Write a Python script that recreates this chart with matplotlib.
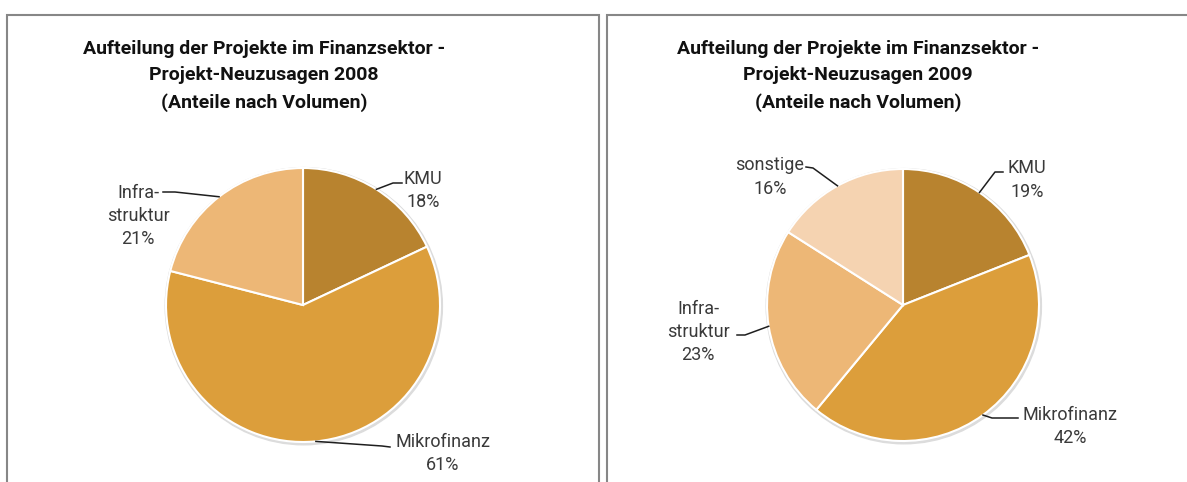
import numpy as np
import matplotlib
matplotlib.use("Agg")
import matplotlib.pyplot as plt
from matplotlib.patches import Circle

W, H = 1187, 482

# data
labels_2008 = ["KMU", "Mikrofinanz", "Infra-\nstruktur"]
shares_2008 = [18, 61, 21]
labels_2009 = ["KMU", "Mikrofinanz", "Infra-\nstruktur", "sonstige"]
shares_2009 = [19, 42, 23, 16]
titles = [
    "Aufteilung der Projekte im Finanzsektor -\nProjekt-Neuzusagen 2008\n(Anteile nach Volumen)",
    "Aufteilung der Projekte im Finanzsektor -\nProjekt-Neuzusagen 2009\n(Anteile nach Volumen)",
]

COLORS = {
    "KMU": "#B8832F",
    "Mikrofinanz": "#DC9E3B",
    "Infra-\nstruktur": "#EDB776",
    "sonstige": "#F5D3B1",
}
BORDER = "#878787"
LABEL_COLOR = "#3a3a3a"
LINE_COLOR = "#1e1e1e"

plt.rcParams["font.family"] = ["Roboto", "DejaVu Sans"]


def fy(y):
    # pixel rows are counted from the top in the reference
    return H - y


fig = plt.figure(figsize=(W / 100, H / 100), dpi=100)
ax = fig.add_axes([0, 0, 1, 1])

# panel frames
for x0, x1 in [(6.5, 598.5), (606.5, W + 5)]:
    ax.plot([x0, x0, x1, x1], [-5, fy(15), fy(15), -5], color=BORDER,
            lw=1.5, solid_joinstyle="miter", zorder=1)

# label layout: text centre, leader path (from label side towards pie)
layout_2008 = {
    "KMU": ((423, 190.5), [(402, 183), (393, 183)]),
    "Mikrofinanz": ((443, 453.5), [(390, 447), (382, 446)]),
    "Infra-\nstruktur": ((138, 216), [(163, 192), (175, 192)]),
}
layout_2009 = {
    "KMU": ((1027, 180), [(1003, 172), (995, 172)]),
    "Mikrofinanz": ((1070, 426.5), [(1018, 418), (992, 418)]),
    "Infra-\nstruktur": ((698, 332), [(737, 335), (745, 335)]),
    "sonstige": ((770, 177), [(806, 167), (813, 168)]),
}

panels = [
    (labels_2008, shares_2008, (303, 305), 137, layout_2008, titles[0], 264),
    (labels_2009, shares_2009, (903, 305), 136, layout_2009, titles[1], 858),
]

for labels, shares, (cx, cy), r, layout, title, tx in panels:
    # soft shadow
    ax.add_patch(Circle((cx + 0.8, fy(cy) - 1.2), r + 1.6, color="#dcdcdc", zorder=2))
    wedges, _ = ax.pie(shares, colors=[COLORS[l] for l in labels], startangle=90,
                       counterclock=False, center=(cx, fy(cy)), radius=r, frame=True,
                       wedgeprops=dict(edgecolor="white", linewidth=1.5))
    for w in wedges:
        w.set_zorder(3)
    for lab, val, w in zip(labels, shares, wedges):
        (lx, ly), path = layout[lab]
        ang = np.deg2rad((w.theta1 + w.theta2) / 2)
        ex, ey = cx + r * np.cos(ang), fy(cy) + r * np.sin(ang)
        xs = [p[0] for p in path] + [ex]
        ys = [fy(p[1]) for p in path] + [ey]
        ax.plot(xs, ys, color=LINE_COLOR, lw=1.1, zorder=4)
        ax.text(lx, fy(ly), f"{lab}\n{val}%", ha="center", va="center",
                fontsize=13, fontweight="normal", color=LABEL_COLOR,
                linespacing=1.38, zorder=5)
    ax.text(tx, fy(76), title, ha="center", va="center", fontsize=14,
            fontweight="bold", color="#111111", linespacing=1.62)

ax.set_xlim(0, W)
ax.set_ylim(0, H)
ax.set_aspect("auto")
ax.axis("off")

fig.savefig("out.png", dpi=100, facecolor="white")
